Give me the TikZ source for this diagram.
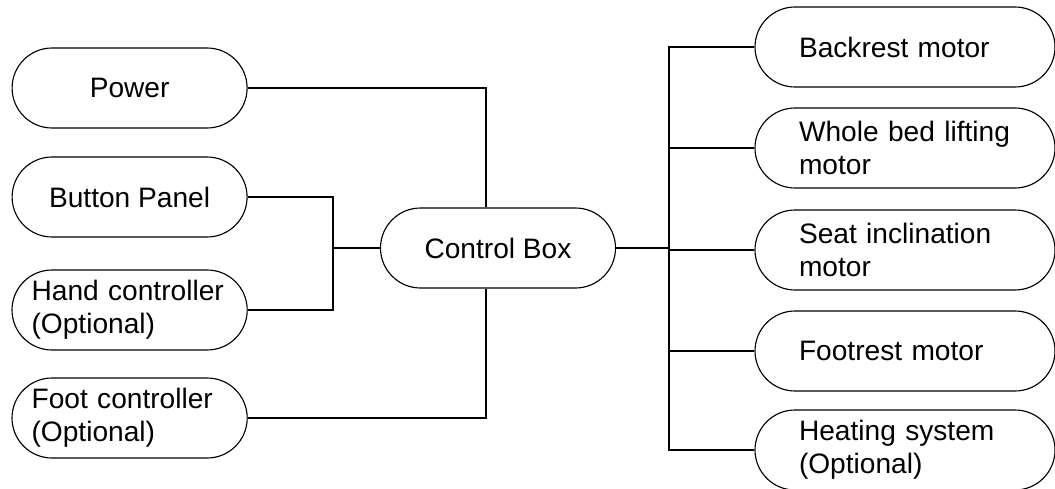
\documentclass[tikz,border=0pt]{standalone}
\usepackage{fontspec}
\setmainfont{Liberation Sans}

\begin{document}
\begin{tikzpicture}[every path/.style={line width=0.8pt},every node/.style={draw,rectangle,rounded corners=1cm,minimum height=2cm,minimum width=5.875cm,inner ysep=2pt,font=\fontsize{20}{23.4}\selectfont},
		opt/.style={text width=4.9cm,inner xsep=0.49cm,align=left},
		motor/.style={text width=5.3cm,inner xsep=1.1cm,align=left}]
		\useasboundingbox (0,0) rectangle (26.375,12.2);
		\node (power) at (3.24,10.0) {Power};
		\node (button-panel) at (3.24,7.275) {Button Panel};
		\node[opt] (hand-ctrl) at (3.24,4.45) {Hand controller\\(Optional)};
		\node[opt] (foot-ctrl) at (3.24,1.75) {Foot controller\\(Optional)};
		\node (control-box) at (12.45,6.0) {Control Box};
		\node[motor] (backrest) at (22.625,11.025) {Backrest motor};
		\node[motor] (bed-lift) at (22.625,8.5) {Whole bed lifting\\motor};
		\node[motor] (seat-incl) at (22.625,5.95) {Seat inclination\\motor};
		\node[motor] (footrest) at (22.625,3.425) {Footrest motor};
		\node[motor] (heating) at (22.625,0.95) {Heating system\\(Optional)};
		\coordinate (left-bus) at (8.325,6.0);
		\coordinate (right-bus) at (16.725,6.0);
		
		\draw (power.east) -| ([xshift=-0.3cm]control-box.north);
		\draw (foot-ctrl.east) -| ([xshift=-0.3cm]control-box.south);
		\draw (button-panel.east) -| (left-bus);
		\draw (hand-ctrl.east) -| (left-bus);
		\draw (left-bus) -- (control-box.west);
		\draw (control-box.east) -- (right-bus);
		\draw (backrest.west) -| (right-bus);
		\draw (bed-lift.west) -| (right-bus);
		\draw (seat-incl.west) -| (right-bus);
		\draw (footrest.west) -| (right-bus);
		\draw (heating.west) -| (right-bus);
	\end{tikzpicture}
\end{document}
